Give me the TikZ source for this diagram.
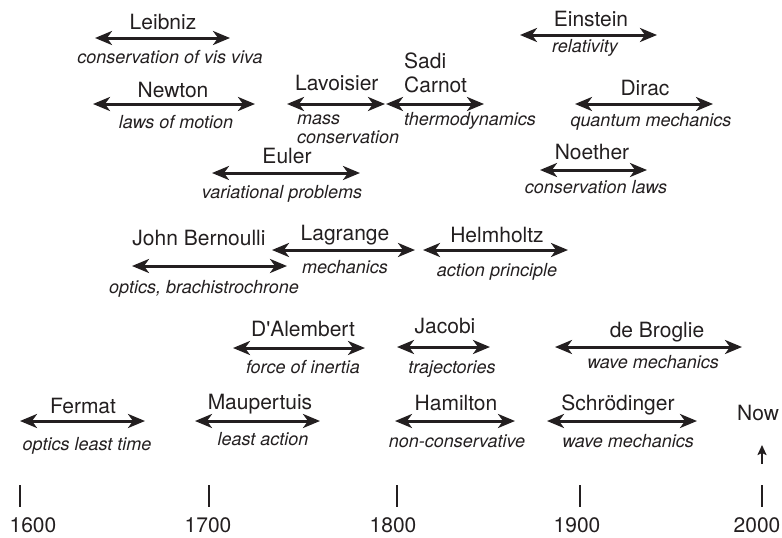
\documentclass[tikz,border=0pt]{standalone}
\usepackage{fontspec}
\setmainfont{TeX Gyre Heros}
\usepackage{xcolor}
\usepackage{tikz}
\usetikzlibrary{arrows.meta}
\definecolor{ink}{HTML}{231F20}
\tikzset{
  span/.style={draw=ink, line width=3pt,
    {Stealth[length=17pt,width=14pt,inset=5pt]}-{Stealth[length=17pt,width=14pt,inset=5pt]}},
  rise/.style={draw=ink, line width=2.2pt, -{Stealth[length=10pt,width=9pt,inset=2pt]}},
  tick/.style={draw=ink, line width=2.2pt},
  who/.style={text=ink, font=\fontsize{21}{24}\selectfont, anchor=base, inner sep=0pt},
  what/.style={text=ink, font=\fontsize{18}{19}\selectfont\itshape, anchor=base, inner sep=0pt},
  year/.style={text=ink, font=\fontsize{21}{24}\selectfont, anchor=base, inner sep=0pt}
}
\begin{document}
\begin{tikzpicture}[x=1pt,y=-1pt]
  \useasboundingbox (0,0) rectangle (782,538);
  % top group
  \coordinate (leibnizW) at (95,38);  \coordinate (leibnizE) at (230,38);
  \draw[span] (leibnizW) -- (leibnizE);
  \node[who] (leibniz) at (163,29) {Leibniz};
  \node[what] (leibnizSub) at (170,63) {conservation of vis viva};
  \coordinate (newtonW) at (93,104);  \coordinate (newtonE) at (255,104);
  \draw[span] (newtonW) -- (newtonE);
  \node[who] (newton) at (173,97) {Newton};
  \node[what] (newtonSub) at (176,128) {laws of motion};
  \coordinate (lavoisierW) at (287,104);  \coordinate (lavoisierE) at (385,104);
  \draw[span] (lavoisierW) -- (lavoisierE);
  \node[who, anchor=base west] (lavoisier) at (295,90) {Lavoisier};
  \node[what, anchor=base west, align=left] (lavoisierSub) at (297,143) {mass\\conservation};
  \coordinate (carnotW) at (386,104);  \coordinate (carnotE) at (484,104);
  \draw[span] (carnotW) -- (carnotE);
  \node[who, anchor=base west, align=left] (carnot) at (404,92) {Sadi\\Carnot};
  \node[what] (carnotSub) at (470,125) {thermodynamics};
  \coordinate (eulerW) at (212,173);  \coordinate (eulerE) at (360,173);
  \draw[span] (eulerW) -- (eulerE);
  \node[who] (euler) at (287,163) {Euler};
  \node[what] (eulerSub) at (282,198) {variational problems};
  \coordinate (einsteinW) at (520,35);  \coordinate (einsteinE) at (657,35);
  \draw[span] (einsteinW) -- (einsteinE);
  \node[who] (einstein) at (591,26) {Einstein};
  \node[what] (einsteinSub) at (585,52) {relativity};
  \coordinate (diracW) at (575,104);  \coordinate (diracE) at (713,104);
  \draw[span] (diracW) -- (diracE);
  \node[who] (dirac) at (645,95) {Dirac};
  \node[what] (diracSub) at (651,126) {quantum mechanics};
  \coordinate (noetherW) at (540,170);  \coordinate (noetherE) at (647,170);
  \draw[span] (noetherW) -- (noetherE);
  \node[who] (noether) at (592,159) {Noether};
  \node[what] (noetherSub) at (596,193) {conservation laws};
  % middle group
  \coordinate (bernoulliW) at (132,266);  \coordinate (bernoulliE) at (287,266);
  \draw[span] (bernoulliW) -- (bernoulliE);
  \node[who] (bernoulli) at (199,245) {John Bernoulli};
  \node[what] (bernoulliSub) at (204,293) {optics, brachistrochrone};
  \coordinate (lagrangeW) at (272,250);  \coordinate (lagrangeE) at (415,250);
  \draw[span] (lagrangeW) -- (lagrangeE);
  \node[who] (lagrange) at (345,240) {Lagrange};
  \node[what] (lagrangeSub) at (345,273) {mechanics};
  \coordinate (helmholtzW) at (423,250);  \coordinate (helmholtzE) at (568,250);
  \draw[span] (helmholtzW) -- (helmholtzE);
  \node[who] (helmholtz) at (497,242) {Helmholtz};
  \node[what] (helmholtzSub) at (497,276) {action principle};
  \coordinate (alembertW) at (233,348);  \coordinate (alembertE) at (365,348);
  \draw[span] (alembertW) -- (alembertE);
  \node[who] (alembert) at (303,336) {D\textquotesingle Alembert};
  \node[what] (alembertSub) at (303,373) {force of inertia};
  \coordinate (jacobiW) at (397,347);  \coordinate (jacobiE) at (490,347);
  \draw[span] (jacobiW) -- (jacobiE);
  \node[who] (jacobi) at (445,333) {Jacobi};
  \node[what] (jacobiSub) at (452,373) {trajectories};
  \coordinate (broglieW) at (555,347);  \coordinate (broglieE) at (742,347);
  \draw[span] (broglieW) -- (broglieE);
  \node[who] (broglie) at (657,337) {de Broglie};
  \node[what] (broglieSub) at (653,368) {wave mechanics};
  % bottom group
  \coordinate (fermatW) at (20,421);  \coordinate (fermatE) at (145,421);
  \draw[span] (fermatW) -- (fermatE);
  \node[who] (fermat) at (83,413) {Fermat};
  \node[what] (fermatSub) at (87,450) {optics least time};
  \coordinate (maupertuisW) at (195,421);  \coordinate (maupertuisE) at (320,421);
  \draw[span] (maupertuisW) -- (maupertuisE);
  \node[who] (maupertuis) at (260,409) {Maupertuis};
  \node[what] (maupertuisSub) at (263,445) {least action};
  \coordinate (hamiltonW) at (395,421);  \coordinate (hamiltonE) at (515,421);
  \draw[span] (hamiltonW) -- (hamiltonE);
  \node[who] (hamilton) at (456,410) {Hamilton};
  \node[what] (hamiltonSub) at (457,447) {non-conservative};
  \coordinate (schrodingerW) at (547,421);  \coordinate (schrodingerE) at (697,421);
  \draw[span] (schrodingerW) -- (schrodingerE);
  \node[who] (schrodinger) at (618,410) {Schrödinger};
  \node[what] (schrodingerSub) at (628,447) {wave mechanics};
  % now marker
  \node[who] (now) at (758,420) {Now};
  \coordinate (nowFoot) at (762,464);  \coordinate (nowTip) at (762,445);
  \draw[rise] (nowFoot) -- (nowTip);
  % time axis
  \draw[tick] (20,485) -- (20,507);
  \draw[tick] (209,485) -- (209,507);
  \draw[tick] (397,485) -- (397,507);
  \draw[tick] (580,485) -- (580,507);
  \draw[tick] (762,485) -- (762,507);
  \node[year] (y1600) at (33,532) {1600};
  \node[year] (y1700) at (208,532) {1700};
  \node[year] (y1800) at (393,532) {1800};
  \node[year] (y1900) at (577,532) {1900};
  \node[year] (y2000) at (757,532) {2000};
\end{tikzpicture}
\end{document}
